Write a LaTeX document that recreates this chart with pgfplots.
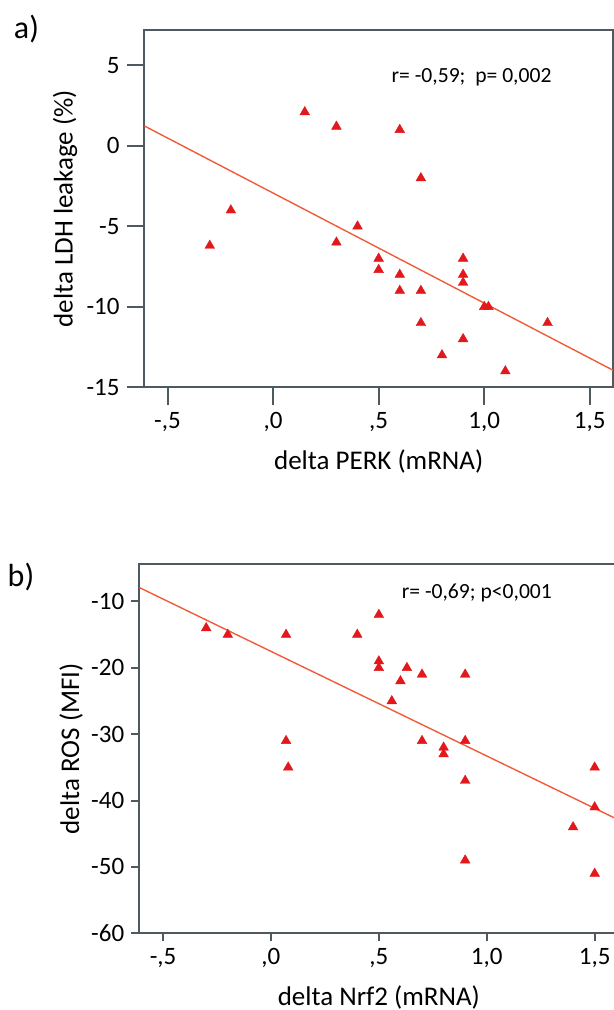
\documentclass[border=0pt]{standalone}
\usepackage{fontspec}
\setmainfont{Carlito}
\usepackage{pgfplots}
\pgfplotsset{compat=1.18}

\definecolor{axisgray}{RGB}{78,90,95}
\definecolor{markred}{RGB}{226,24,28}
\definecolor{fitline}{RGB}{240,92,58}

\pgfplotsset{
  spss/.style={
    scale only axis,
    axis line style={axisgray, line width=1pt},
    tick style={axisgray, line width=1pt},
    tick align=outside,
    tick pos=left,
    minor tick num=0,
    every tick label/.append style={font=\fontsize{12.5}{15}\selectfont, text=black},
    label style={font=\fontsize{13.5}{16}\selectfont},
    xtick={-0.5,0,0.5,1,1.5},
    xticklabels={{-,5},{,0},{,5},{1,0},{1,5}},
    xmin=-0.61, xmax=1.61,
  },
  pts/.style={only marks, mark=triangle*, mark size=2.8pt,
    mark options={fill=markred, draw=markred, line width=0.2pt}},
  fit/.style={fitline, line width=0.7pt, no marks},
}

\begin{document}
\begin{tikzpicture}

% panel a
\begin{axis}[spss,
  at={(72.15pt,311.35pt)}, anchor=south west,
  width=234.35pt, height=178.65pt,
  ymin=-15, ymax=7.2,
  ytick={-15,-10,-5,0,5},
  yticklabels={-15,-10,-5,0,5},
  major tick length=8.85pt,
  xlabel={delta PERK (mRNA)},
  ylabel={delta LDH leakage (\%)},
  xlabel style={at={(rel axis cs:0.5,0)}, anchor=center, yshift=-37.3pt},
  ylabel style={at={(rel axis cs:0,0.5)}, anchor=center, yshift=39.6pt},
]
\addplot[fit] coordinates {(-0.61,1.24) (1.61,-13.94)};
\addplot[pts] coordinates {
  (0.15,2.1) (0.3,1.2) (0.6,1.0) (0.7,-2) (-0.2,-4) (-0.3,-6.2)
  (0.4,-5) (0.3,-6) (0.5,-7) (0.5,-7.7) (0.6,-8) (0.6,-9) (0.7,-9)
  (0.9,-7) (0.9,-8) (0.9,-8.5) (1.0,-10) (1.02,-10) (0.7,-11)
  (0.9,-12) (0.8,-13) (1.1,-14) (1.3,-11)
};
\node[font=\fontsize{10.8}{13}\selectfont] at (axis cs:0.94,4.29) {r= -0,59;\ \ p= 0,002};
\end{axis}

% panel b
\begin{axis}[spss,
  at={(69.65pt,38.35pt)}, anchor=south west,
  width=239.55pt, height=184.5pt,
  ymin=-60, ymax=-4.4,
  ytick={-60,-50,-40,-30,-20,-10},
  yticklabels={-60,-50,-40,-30,-20,-10},
  major tick length=4pt,
  xlabel={delta Nrf2 (mRNA)},
  ylabel={delta ROS (MFI)},
  xlabel style={at={(rel axis cs:0.5,0)}, anchor=center, yshift=-31.9pt},
  ylabel style={at={(rel axis cs:0,0.5)}, anchor=center, yshift=34.1pt},
]
\addplot[fit] coordinates {(-0.61,-7.9) (1.61,-42.9)};
\addplot[pts] coordinates {
  (-0.3,-14) (-0.2,-15) (0.07,-15) (0.4,-15) (0.5,-12) (0.5,-19)
  (0.5,-20) (0.63,-20) (0.6,-22) (0.7,-21) (0.9,-21) (0.56,-25)
  (0.07,-31) (0.08,-35) (0.7,-31) (0.8,-32) (0.8,-33) (0.9,-31)
  (0.9,-37) (0.9,-49) (1.4,-44) (1.5,-35) (1.5,-41) (1.5,-51)
};
\node[font=\fontsize{10.8}{13}\selectfont] at (axis cs:0.954,-8.69) {r= -0,69; p<0,001};
\end{axis}

\node[font=\fontsize{16}{19}\selectfont] at (13.25pt,490.5pt) {a)};
\node[font=\fontsize{16}{19}\selectfont] at (10.5pt,216.5pt) {b)};

\pgfresetboundingbox
\path[use as bounding box] (0,0) rectangle (307pt,505pt);
\end{tikzpicture}
\end{document}
